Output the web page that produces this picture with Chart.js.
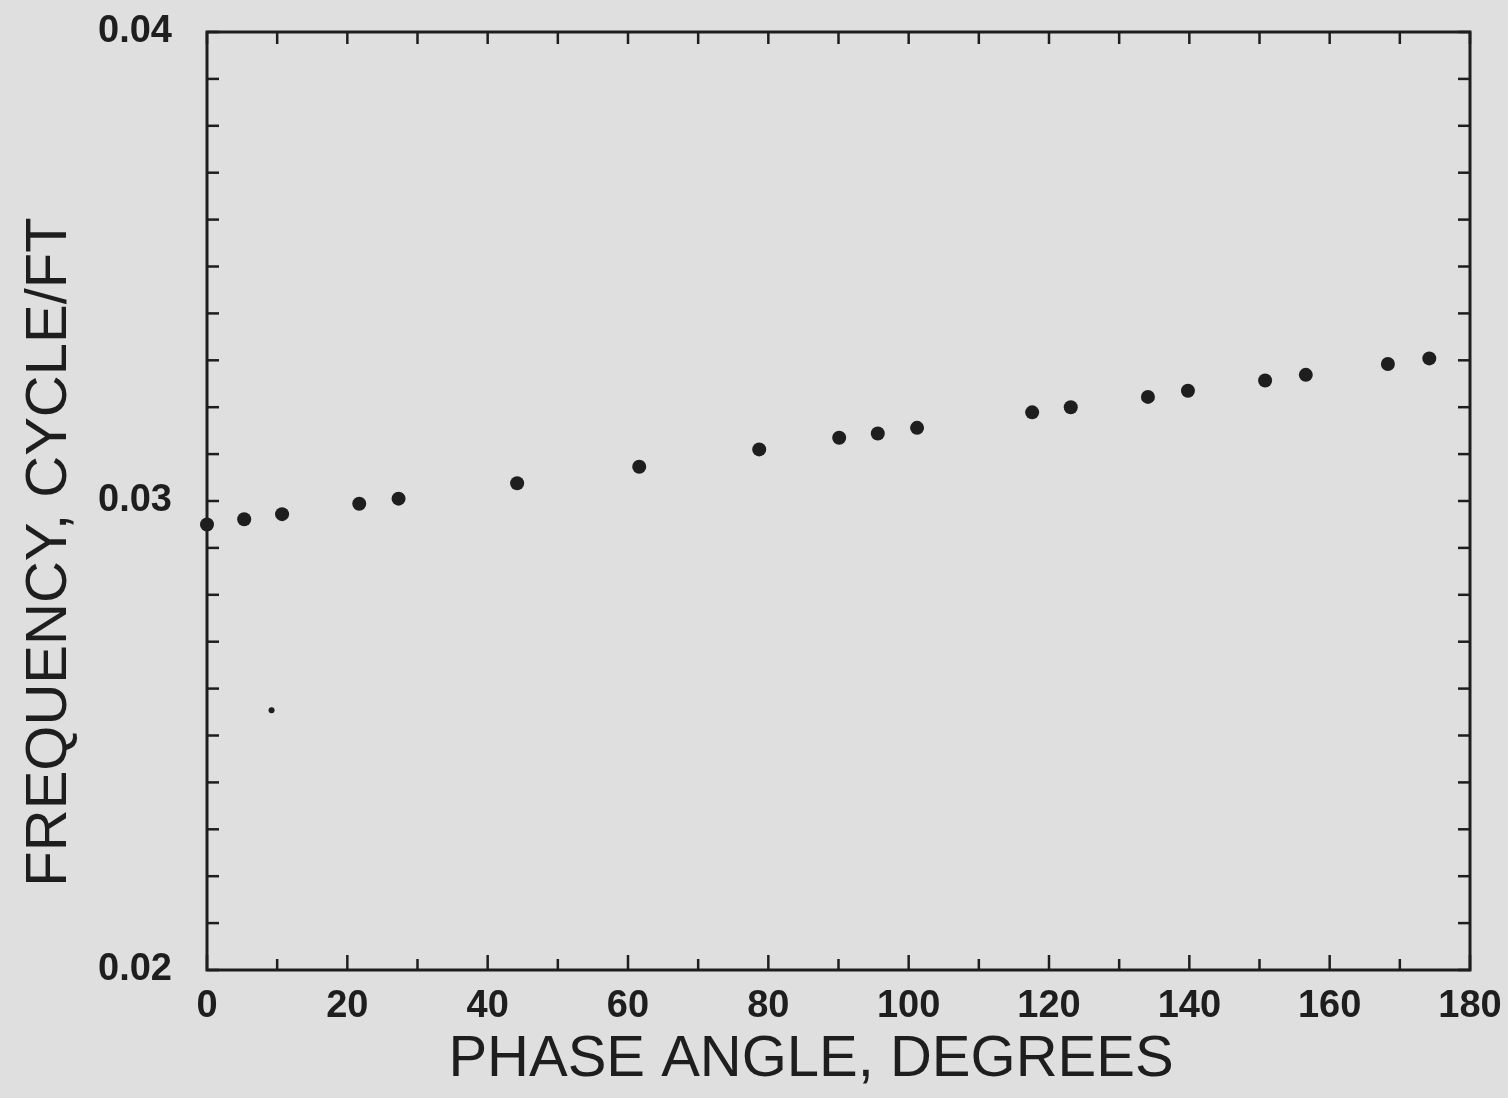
<!DOCTYPE html>
<html>
<head>
<meta charset="utf-8">
<script src="https://cdn.jsdelivr.net/npm/chart.js"></script>
<style>
  html, body { margin: 0; background: #dfdfdf; }
  #wrap { width: 1508px; height: 1098px; }
</style>
</head>
<body>
<div id="wrap"><canvas id="graph"></canvas></div>
<script>
// values
const phaseDeg = [0, 5.3, 10.7, 21.7, 27.3, 44.2, 61.6, 78.7, 90.1, 95.6, 101.2,
                  117.6, 123.1, 134.1, 139.8, 150.8, 156.6, 168.3, 174.2];
const freq = [0.02950, 0.02961, 0.02972, 0.02994, 0.03005, 0.03038, 0.03073, 0.03110,
              0.03135, 0.03144, 0.03156, 0.03189, 0.03200, 0.03222, 0.03235, 0.03257,
              0.03269, 0.03292, 0.03304];
// the lone small dot below the curve
const strayDeg = [9.2];
const strayFreq = [0.02554];

const xTickLabels = [0, 20, 40, 60, 80, 100, 120, 140, 160, 180];
const yTickLabels = ['0.02', '0.03', '0.04'];

const ink = '#1e1e1e';
const tickFont = { family: '"Liberation Sans", Arial, sans-serif', size: 38, weight: 'bold' };

const toPoints = (xs, ys) => xs.map((v, i) => ({ x: v, y: ys[i] }));

// boxed frame with inward ticks on all four sides, plus the axis titles
const framePlugin = {
  id: 'frameTicks',
  beforeDatasetsDraw(chart) {
    const { ctx, chartArea: a, scales: { x, y } } = chart;
    ctx.save();
    ctx.strokeStyle = ink;
    ctx.lineWidth = 3;
    ctx.strokeRect(a.left, a.top, a.right - a.left, a.bottom - a.top);
    ctx.lineWidth = 2.5;
    const seg = (x1, y1, x2, y2) => { ctx.beginPath(); ctx.moveTo(x1, y1); ctx.lineTo(x2, y2); ctx.stroke(); };
    x.ticks.forEach(t => {
      const px = x.getPixelForValue(t.value);
      const len = xTickLabels.includes(t.value) ? 15 : 11;
      seg(px, a.bottom, px, a.bottom - len);
      seg(px, a.top, px, a.top + 12);
    });
    y.ticks.forEach(t => {
      const py = y.getPixelForValue(t.value);
      seg(a.left, py, a.left + 12, py);
      seg(a.right, py, a.right - 12, py);
    });
    ctx.restore();
  },
  afterDraw(chart) {
    const { ctx } = chart;
    ctx.save();
    ctx.fillStyle = ink;
    ctx.font = '58px "Liberation Sans", Arial, sans-serif';
    ctx.textAlign = 'center';
    ctx.textBaseline = 'middle';
    ctx.fillText('PHASE ANGLE, DEGREES', 811, 1060);
    ctx.translate(50, 552);
    ctx.rotate(-Math.PI / 2);
    ctx.fillText('FREQUENCY, CYCLE/FT', 0, 0);
    ctx.restore();
  }
};

new Chart(document.getElementById('graph'), {
  type: 'scatter',
  data: {
    datasets: [
      {
        data: toPoints(phaseDeg, freq),
        pointRadius: 7,
        pointBackgroundColor: ink,
        pointBorderWidth: 0,
        clip: false
      },
      {
        data: toPoints(strayDeg, strayFreq),
        pointRadius: 3,
        pointBackgroundColor: ink,
        pointBorderWidth: 0
      }
    ]
  },
  options: {
    responsive: true,
    maintainAspectRatio: false,
    animation: false,
    layout: { padding: { left: 0, top: 32, right: 38, bottom: 0 } },
    plugins: { legend: { display: false }, tooltip: { enabled: false } },
    scales: {
      x: {
        type: 'linear',
        min: 0, max: 180,
        afterFit: s => { s.height = 128; s.paddingLeft = 0; s.paddingRight = 0; },
        grid: { display: false, drawTicks: false },
        border: { display: false },
        ticks: {
          stepSize: 10,
          autoSkip: false,
          maxRotation: 0,
          padding: 14,
          color: ink,
          font: tickFont,
          callback: v => xTickLabels.includes(v) ? String(v) : ''
        }
      },
      y: {
        type: 'linear',
        min: 0.02, max: 0.04,
        afterFit: s => { s.width = 207; s.paddingTop = 0; s.paddingBottom = 0; },
        grid: { display: false, drawTicks: false },
        border: { display: false },
        ticks: {
          stepSize: 0.001,
          autoSkip: false,
          padding: 35,
          color: ink,
          font: tickFont,
          callback: v => {
            const s = v.toFixed(3);
            const lab = v.toFixed(2);
            return yTickLabels.includes(lab) && s.endsWith('0') ? lab : '';
          }
        }
      }
    }
  },
  plugins: [framePlugin]
});
</script>
</body>
</html>
